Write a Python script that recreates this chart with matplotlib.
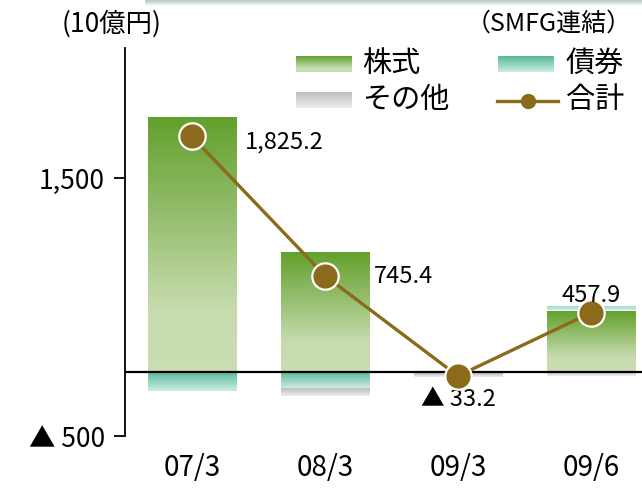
import numpy as np
import matplotlib
matplotlib.use("Agg")
import matplotlib.pyplot as plt
from matplotlib.colors import LinearSegmentedColormap
from matplotlib.lines import Line2D

plt.rcParams['font.family'] = ['Noto Sans CJK JP', 'DejaVu Sans']

# 有価証券評価損益（10億円）
periods = ['07/3', '08/3', '09/3', '09/6']
stocks = [1973, 925, 0, 470]      # 株式
bonds = [-148, -125, -5, 25]      # 債券
others = [0, -55, -28, -37]       # その他
totals = [1825.2, 745.4, -33.2, 457.9]  # 合計
total_labels = ['1,825.2', '745.4', '▲ 33.2', '457.9']

ytick_vals = [1500, -500]
ytick_labels = ['1,500', '▲ 500']

# グラデーション
cm_stock = LinearSegmentedColormap.from_list('stock', [(0, '#62A02C'), (0.75, '#C6DBAE'), (1, '#CADDB3')])
cm_bond = LinearSegmentedColormap.from_list('bond', [(0, '#55B898'), (1, '#CCECE2')])
cm_bond_pos = LinearSegmentedColormap.from_list('bondp', [(0, '#A9DCCF'), (1, '#C8EAE0')])
cm_other = LinearSegmentedColormap.from_list('other', [(0, '#BDBDBD'), (1, '#EEEEEE')])
grad = np.linspace(0, 1, 256).reshape(-1, 1)

W, H = 642, 492
fig = plt.figure(figsize=(W / 100, H / 100), dpi=100)
ax = fig.add_axes([124.5 / W, 1 - 436.2 / H, (W - 124.5) / W, (436.2 - 48) / H])

bw = 0.664
gap = 6


def seg(x, y0, y1, cmap):
    # グラデーションは上→下
    top, bot = max(y0, y1), min(y0, y1)
    if top - bot <= 0:
        return
    ax.imshow(grad, cmap=cmap, aspect='auto', origin='upper',
              extent=(x - bw / 2, x + bw / 2, bot, top), interpolation='bilinear', zorder=2)


for i in range(len(periods)):
    pos = 0
    neg = 0
    if stocks[i] > 0:
        seg(i, pos, pos + stocks[i], cm_stock)
        pos += stocks[i]
    if bonds[i] > 0:
        seg(i, pos + gap, pos + gap + bonds[i], cm_bond_pos)
        pos += bonds[i]
    elif bonds[i] < 0:
        seg(i, neg, neg + bonds[i], cm_bond)
        neg += bonds[i]
    if others[i] < 0:
        start = neg - (gap if neg < 0 else 0)
        seg(i, start, start + others[i], cm_other)
        neg += others[i]

ax.axhline(0, color='black', lw=1.6, zorder=3)

x = np.arange(len(periods))
ax.plot(x, totals, color='#8B6A1C', lw=2.4, marker='o', ms=19,
        mfc='#8B6A1C', mec='white', mew=1.6, zorder=4)

# 合計ラベル
lab_fs = 17
ax.annotate(total_labels[0], (0, totals[0]), xytext=(38, -4), textcoords='offset points',
            ha='left', va='center', fontsize=lab_fs)
ax.annotate(total_labels[1], (1, totals[1]), xytext=(35, -1), textcoords='offset points',
            ha='left', va='center', fontsize=lab_fs)
ax.annotate(total_labels[2], (2, totals[2]), xytext=(0, -17), textcoords='offset points',
            ha='center', va='center', fontsize=lab_fs)
ax.annotate(total_labels[3], (3, totals[3]), xytext=(0, 12), textcoords='offset points',
            ha='center', va='center', fontsize=lab_fs, zorder=5)

ax.set_xlim(-0.505, 3.383)
ax.set_ylim(-500, 2510)
ax.set_yticks(ytick_vals)
ax.set_yticklabels(ytick_labels, fontsize=19)
ax.set_xticks(x)
ax.set_xticklabels(periods, fontsize=20)
ax.tick_params(axis='y', direction='out', length=8, width=1.3, pad=6)
ax.tick_params(axis='x', length=0, pad=12)
for s in ['top', 'right', 'bottom']:
    ax.spines[s].set_visible(False)
ax.spines['left'].set_linewidth(1.3)

# 見出し
fig.text(62 / W, 1 - 24 / H, '(10億円)', fontsize=19, ha='left', va='center')
fig.text(632 / W, 1 - 24 / H, '（SMFG連結）', fontsize=18, ha='right', va='center')

# 上部の帯
band = fig.add_axes([145 / W, 1 - 6 / H, (W - 145) / W, 6 / H])
band.imshow(grad, cmap=LinearSegmentedColormap.from_list('band', ['#B3C8B8', '#FFFFFF']),
            aspect='auto', origin='upper')
band.axis('off')


# 凡例
def swatch(x0, y0, w, h, cmap):
    a = fig.add_axes([x0 / W, 1 - (y0 + h) / H, w / W, h / H])
    a.imshow(grad, cmap=cmap, aspect='auto', origin='upper')
    a.axis('off')


swatch(296, 56, 56, 16, cm_stock)
swatch(498, 56, 56, 16, cm_bond)
swatch(296, 92, 56, 16, cm_other)
fig.add_artist(Line2D([497 / W, 558 / W], [1 - 101 / H, 1 - 101 / H], transform=fig.transFigure,
                      color='#8B6A1C', lw=2.4, zorder=5))
fig.add_artist(Line2D([527.5 / W], [1 - 101 / H], transform=fig.transFigure,
                      color='#8B6A1C', marker='o', ms=10, mec='#8B6A1C', zorder=6))
fig.text(362 / W, 1 - 64 / H, '株式', fontsize=21, va='center')
fig.text(566 / W, 1 - 64 / H, '債券', fontsize=21, va='center')
fig.text(362 / W, 1 - 100 / H, 'その他', fontsize=21, va='center')
fig.text(566 / W, 1 - 100 / H, '合計', fontsize=21, va='center')

fig.savefig('out.png', dpi=100)
